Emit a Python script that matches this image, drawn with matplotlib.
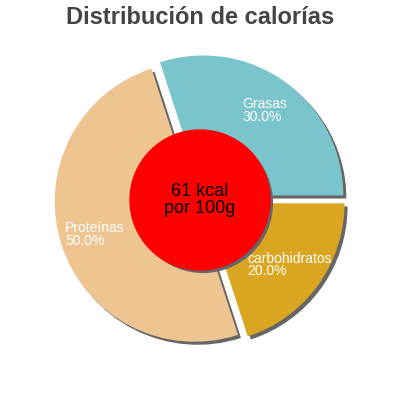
import matplotlib
matplotlib.use("Agg")
import matplotlib.pyplot as plt
import matplotlib.patheffects as pe
import numpy as np

# data
nutrients = ["Grasas", "Proteínas", "carbohidratos"]
shares = [30.0, 50.0, 20.0]
colors = ["#7ac4cc", "#eec591", "#daa520"]
center_text = "61 kcal\npor 100g"
title = "Distribución de calorías"

plt.rcParams['font.family'] = ['Liberation Sans', 'DejaVu Sans']

fig = plt.figure(figsize=(4, 4), dpi=100)
ax = fig.add_axes([0, 0, 1, 1])

shadow = [pe.SimplePatchShadow(offset=(2.2, -2.2), shadow_rgbFace="#666666", alpha=1.0),
          pe.Normal()]

labels = [f"{n}\n{s:.1f}%" for n, s in zip(nutrients, shares)]
wedges, texts = ax.pie(shares, labels=labels, colors=colors, startangle=0,
                       counterclock=True, explode=[0.04] * len(shares),
                       labeldistance=0.75, radius=1.0,
                       textprops=dict(color="white", fontsize=10))
for w in wedges:
    w.set_path_effects(shadow)
for t in texts:
    t.set_ha("center")
    t.set_va("center")
    t.set_multialignment("left")
    t.set_linespacing(0.9)

# red centre disc with the energy value
disc = plt.Circle((0, 0), 0.5, color="#ff0000", zorder=5)
disc.set_path_effects(shadow)
ax.add_patch(disc)
ax.text(0, 0, center_text, ha="center", va="center", fontsize=13,
        color="black", linespacing=1.0, zorder=6)

lim = 200 / 140
ax.set_xlim(-lim, lim)
ax.set_ylim(-lim, lim)
ax.set_aspect("equal")
ax.axis("off")

fig.text(0.5, 1 - 24 / 400, title, ha="center", va="baseline",
         fontsize=17, fontweight="bold", color="#444444")

fig.savefig("out.png", dpi=100)
